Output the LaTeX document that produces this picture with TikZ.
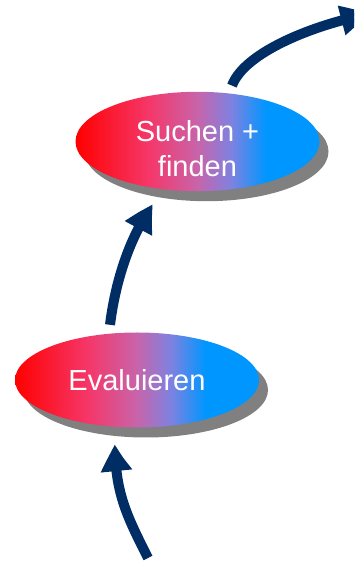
\documentclass[tikz,border=0pt]{standalone}
\usepackage{fontspec}
\setmainfont{Liberation Sans}
\usetikzlibrary{arrows.meta,bending,shapes.geometric,shadows}
\definecolor{navy}{RGB}{0,45,100}
\definecolor{shadowgray}{RGB}{128,128,128}
\definecolor{pinkred}{RGB}{245,55,105}
\definecolor{mauve}{RGB}{200,100,170}
\definecolor{lilac}{RGB}{125,130,225}
\definecolor{skyblue}{RGB}{0,150,255}
\pgfdeclarehorizontalshading{redblue}{100bp}{color(0bp)=(red); color(25bp)=(red);
  color(40bp)=(pinkred); color(50bp)=(mauve); color(57bp)=(lilac);
  color(64bp)=(skyblue); color(100bp)=(skyblue)}
\tikzset{
  phase/.style={ellipse, minimum width=244pt, minimum height=95pt, inner sep=0pt,
    shade, shading=redblue, text=white, align=center,
    font=\fontsize{29}{35}\selectfont,
    drop shadow={shadow xshift=9pt, shadow yshift=-10pt, opacity=1, fill=shadowgray}},
  flow/.style={navy, line width=10pt, -{Triangle[width=29pt,length=28pt,bend]}}
}
\begin{document}
\begin{tikzpicture}[x=1pt,y=1pt]
	\clip (0,0) rectangle (354,563);
	\coordinate (start) at (148,5);
	\coordinate (exit) at (370,549);
	
	\node[phase] (eval) at (137,183) {Evaluieren};
	\node[phase, text height=70pt] (such) at (197.5,421.5) {Suchen +\\finden};
	
	\draw[flow] (start) .. controls +(-20,40) and +(0,-50) .. ([xshift=-22pt,yshift=-16.5pt]eval.south);
	\draw[flow] ([xshift=-27pt,yshift=7.5pt]eval.north) .. controls +(5,40) and +(-25,-35) .. ([xshift=-44.5pt,yshift=-13pt]such.south);
	\draw[flow] ([xshift=34.5pt,yshift=6pt]such.north) .. controls +(13,35) and +(-50,-9) .. (exit);
\end{tikzpicture}
\end{document}
